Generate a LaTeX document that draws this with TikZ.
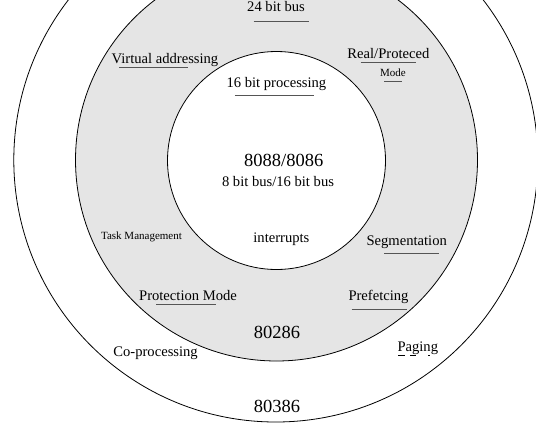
\documentclass[tikz,border=0pt]{standalone}
\usepackage{fontspec}
\setmainfont{Liberation Serif}
\definecolor{ringgray}{RGB}{229,229,229}
\definecolor{ulgray}{RGB}{85,85,85}
\begin{document}
\begin{tikzpicture}[x=1pt,y=-1pt,
  lbl/.style={anchor=base,inner sep=0pt,font=\fontsize{14.6}{17}\selectfont},
  big/.style={anchor=base,inner sep=0pt,font=\fontsize{18.5}{22}\selectfont},
  small/.style={anchor=base,inner sep=0pt,font=\fontsize{11}{13}\selectfont},
  ul/.style={draw=ulgray,line width=1pt},
  ring/.style={draw=black,line width=0.8pt}]
\useasboundingbox (0,0) rectangle (536,423);
\clip (0,0) rectangle (536,423);
\fill[white] (0,0) rectangle (536,423);
\draw[ring,fill=white] (275.8,160) circle (262);
\draw[ring,fill=ringgray] (276.5,160) circle (201);
\draw[ring,fill=white] (276.5,160.5) circle (109);

\node[lbl] (bus24) at (276,12) {24 bit bus};
\draw[ul] (253.7,21) -- (308.7,21);
\node[lbl] (virt) at (165,63) {Virtual addressing};
\draw[ul] (119,67.7) -- (188,67.7);
\node[lbl] (real) at (388.4,58.5) {Real/Proteced};
\draw[ul] (360.7,62.7) -- (416,62.7);
\node[small] (mode) at (393,76) {Mode};
\draw[ul] (384,81.7) -- (402,81.7);
\node[lbl] (proc16) at (276.4,87) {16 bit processing};
\draw[ul] (234.9,95.7) -- (313.8,95.7);
\node[big] (n8088) at (283.8,166) {8088/8086};
\node[lbl] (bus8) at (278,186.7) {8 bit bus/16 bit bus};
\node[small] (task) at (141.5,239.3) {Task Management};
\node[lbl] (intr) at (281.4,242.7) {interrupts};
\node[lbl] (seg) at (406.7,245) {Segmentation};
\draw[ul] (384,253.7) -- (439.3,253.7);
\node[lbl] (prot) at (188,300) {Protection Mode};
\draw[ul] (156,304.7) -- (216,304.7);
\node[lbl] (pref) at (378.5,300) {Prefetcing};
\draw[ul] (351.5,309.3) -- (406.8,309.3);
\node[big] (n80286) at (277,338.3) {80286};
\node[lbl] (cop) at (155.6,356) {Co-processing};
\node[lbl] (pag) at (417.8,351.7) {Paging};
\draw[black,line width=1.6pt] (398.3,355.5) -- (405,355.5);
\draw[black,line width=1.6pt] (410,355.5) -- (415.7,355.5);
\draw[black,line width=1.6pt] (428.3,355.5) -- (429.8,355.5);
\node[big] (n80386) at (277,412.3) {80386};
\end{tikzpicture}
\end{document}
